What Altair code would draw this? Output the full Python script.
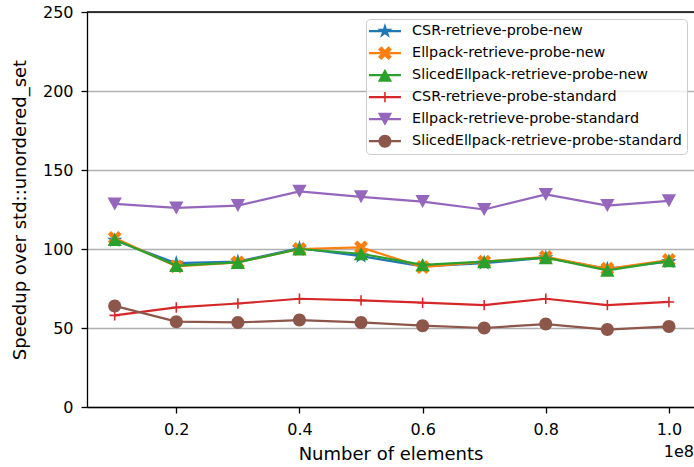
import math

import altair as alt
import pandas as pd

# ---- data -------------------------------------------------------------
elements = [10000000, 20000000, 30000000, 40000000, 50000000,
            60000000, 70000000, 80000000, 90000000, 100000000]

series_names = [
    "CSR-retrieve-probe-new",
    "Ellpack-retrieve-probe-new",
    "SlicedEllpack-retrieve-probe-new",
    "CSR-retrieve-probe-standard",
    "Ellpack-retrieve-probe-standard",
    "SlicedEllpack-retrieve-probe-standard",
]

csr_new = [105.5, 91.0, 92.0, 100.5, 95.5, 89.0, 91.0, 94.5, 87.5, 92.0]
ellpack_new = [107.0, 89.0, 91.5, 100.0, 101.0, 88.5, 92.0, 95.0, 87.5, 93.0]
sliced_new = [106.0, 89.5, 91.5, 100.0, 97.0, 90.0, 92.0, 94.5, 86.5, 92.5]
csr_standard = [58.0, 63.0, 65.5, 68.5, 67.5, 66.0, 64.5, 68.5, 64.5, 66.5]
ellpack_standard = [128.5, 126.0, 127.5, 136.5, 133.0, 130.0, 125.0, 134.5, 127.5, 130.5]
sliced_standard = [64.0, 54.0, 53.5, 55.0, 53.5, 51.5, 50.0, 52.5, 49.0, 51.0]

series_values = [csr_new, ellpack_new, sliced_new,
                 csr_standard, ellpack_standard, sliced_standard]

series_colors = ["#1f77b4", "#ff7f0e", "#2ca02c", "#d62728", "#9467bd", "#8c564b"]

y_ticks = [0, 50, 100, 150, 200, 250]
x_ticks = [20000000, 40000000, 60000000, 80000000, 100000000]

X_MIN, X_MAX = 5.5e6, 1.0407e8
FONT = "DejaVu Sans"

rows = []
for name, vals in zip(series_names, series_values):
    for n, v in zip(elements, vals):
        rows.append({"elements": n, "series": name, "speedup": v})
df = pd.DataFrame(rows)


# ---- marker shapes (unit square -1..1, y pointing down) ---------------
def poly(points):
    area = sum(x1 * y2 - x2 * y1
               for (x1, y1), (x2, y2) in zip(points, points[1:] + points[:1]))
    if area < 0:
        points = points[::-1]
    return "M" + "L".join(f"{x:.3f},{y:.3f}" for x, y in points) + "Z"


def star(outer, inner):
    pts = []
    for k in range(10):
        r = outer if k % 2 == 0 else inner
        a = -math.pi / 2 + k * math.pi / 5
        pts.append((r * math.cos(a), r * math.sin(a)))
    return poly(pts)


def cross(half_len, half_w, angle=0.0):
    l, w = half_len, half_w
    base = [(-w, -l), (w, -l), (w, -w), (l, -w), (l, w), (w, w),
            (w, l), (-w, l), (-w, w), (-l, w), (-l, -w), (-w, -w)]
    c, s = math.cos(angle), math.sin(angle)
    return poly([(x * c - y * s, x * s + y * c) for x, y in base])


CIRCLE = "M1,0A1,1,0,1,1,-1,0A1,1,0,1,1,1,0Z"

marker_paths = [
    star(1.25, 0.48),                  # CSR new
    cross(1.15, 0.36, math.pi / 4),    # Ellpack new (filled x)
    poly([(0, -1.0), (1.1, 1.0), (-1.1, 1.0)]),   # Sliced new
    cross(0.8, 0.12),                  # CSR standard (thin plus)
    poly([(-1.1, -1.0), (1.1, -1.0), (0, 1.0)]),  # Ellpack standard
    CIRCLE,                            # Sliced standard
]

# legend handles: a short line segment with the marker on it
HANDLE_LINE = poly([(-2.46, -0.17), (2.46, -0.17), (2.46, 0.17), (-2.46, 0.17)])
legend_paths = [p + HANDLE_LINE for p in marker_paths]

MARKER_SIZE = 169

x_enc = alt.X(
    "elements:Q",
    scale=alt.Scale(domain=[X_MIN, X_MAX], nice=False, zero=False),
    axis=alt.Axis(
        values=x_ticks,
        labelExpr="format(datum.value / 1e8, '.1f')",
        title="Number of elements",
        grid=False,
    ),
)
y_enc = alt.Y(
    "speedup:Q",
    scale=alt.Scale(domain=[0, 250], nice=False),
    axis=alt.Axis(values=y_ticks, title="Speedup over std::unordered_set", grid=True),
)

base = alt.Chart(df)

layers = []
for name, color, path in zip(series_names, series_colors, marker_paths):
    sub = base.transform_filter(alt.datum.series == name)
    layers.append(sub.mark_line(color=color, strokeWidth=2.2).encode(x=x_enc, y=y_enc))
    layers.append(
        sub.mark_point(filled=True, shape=path, size=MARKER_SIZE, color=color,
                       opacity=1, strokeWidth=0).encode(x=x_enc, y=y_enc)
    )

legend_def = alt.Legend(
    title=None,
    orient="top-right",
    offset=7,
    padding=5,
    labelFont=FONT,
    labelFontSize=14.3,
    labelColor="black",
    labelLimit=400,
    symbolSize=MARKER_SIZE,
    symbolStrokeWidth=0,
    symbolOffset=6.8,
    labelOffset=20,
    rowPadding=7,
    fillColor="rgba(255,255,255,0.8)",
    strokeColor="#cccccc",
    cornerRadius=4,
)

legend_layer = base.transform_filter("false").mark_point(
    filled=True, size=MARKER_SIZE, opacity=1
).encode(
    x=x_enc,
    y=y_enc,
    color=alt.Color("series:N", scale=alt.Scale(domain=series_names, range=series_colors),
                    legend=legend_def),
    shape=alt.Shape("series:N", scale=alt.Scale(domain=series_names, range=legend_paths),
                    legend=legend_def),
)

# top spine
top_spine = alt.Chart(pd.DataFrame({"speedup": [250]})).mark_rule(
    color="black", strokeWidth=1.3
).encode(y=alt.Y("speedup:Q"))

# scientific offset of the x axis
offset_text = alt.Chart(pd.DataFrame({"label": ["1e8"]})).mark_text(
    align="right", baseline="alphabetic", font=FONT, fontSize=16, color="black"
).encode(x=alt.datum(X_MAX), y=alt.value(445), text="label:N")

chart = alt.layer(*layers, top_spine, offset_text, legend_layer).properties(
    width=607,
    height=395,
    autosize=alt.AutoSizeParams(type="none"),
    padding={"left": 87, "top": 12, "right": 0, "bottom": 60},
).configure_view(
    stroke=None
).configure_axis(
    labelFont=FONT,
    titleFont=FONT,
    labelFontSize=16,
    titleFontSize=18,
    titleFontWeight="normal",
    labelColor="black",
    titleColor="black",
    domainColor="black",
    domainWidth=1.3,
    tickColor="black",
    tickWidth=1.3,
    tickSize=6,
    gridColor="#b0b0b0",
    gridWidth=1.3,
).configure_axisX(
    labelPadding=8,
    titlePadding=8,
).configure_axisY(
    labelPadding=8,
    titlePadding=13,
)

chart.save("out.html", embed_options={"renderer": "svg", "actions": False})
